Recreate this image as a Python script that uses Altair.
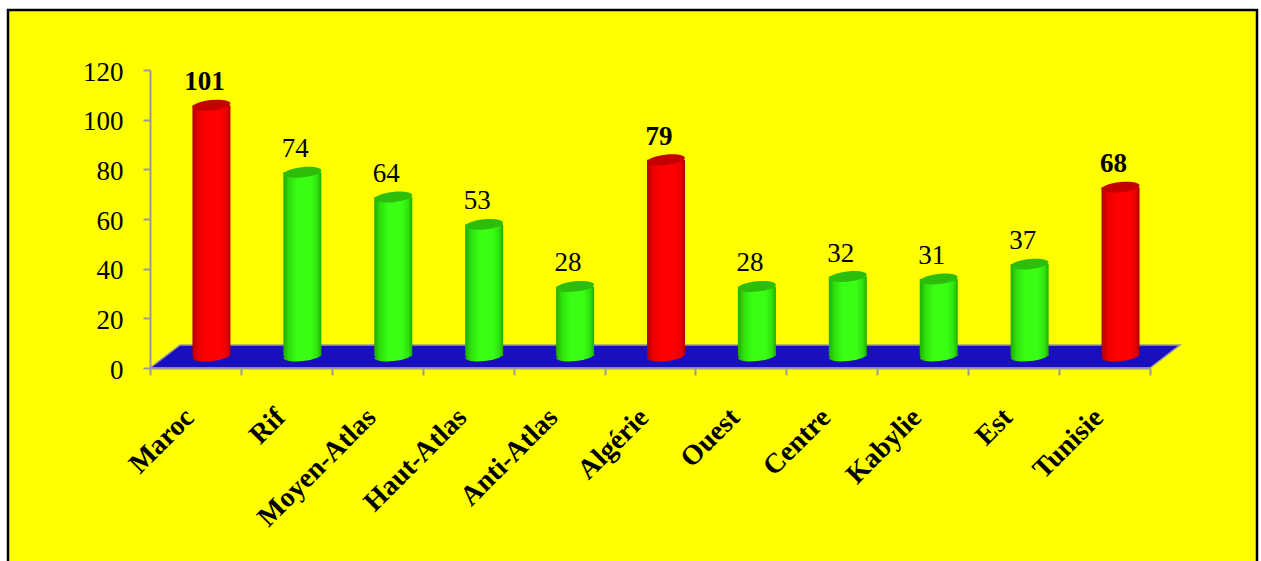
import altair as alt
import pandas as pd

# Nombre de taxons par pays et par région
zones = ["Maroc", "Rif", "Moyen-Atlas", "Haut-Atlas", "Anti-Atlas", "Algérie",
         "Ouest", "Centre", "Kabylie", "Est", "Tunisie"]
effectifs = [101, 74, 64, 53, 28, 79, 28, 32, 31, 37, 68]
niveaux = ["pays", "région", "région", "région", "région", "pays",
           "région", "région", "région", "région", "pays"]

df = pd.DataFrame({"zone": zones, "n": effectifs, "niveau": niveaux})

W, H = 1000, 298          # plot area
DX, DY = 16, 12           # depth shift of the cylinders on the floor
CYL_W = 38                # cylinder diameter in px
SERIF = "Liberation Serif"
GREY = "#9A9A9A"

ELLIPSE = "M -1 0 A 1 0.27 0 1 1 1 0 A 1 0.27 0 1 1 -1 0 Z"
FLOOR = "M -1.03 0.023 L 0.97 0.023 L 1.03 -0.023 L -0.97 -0.023 Z"


def body(dark, mid, light):
    return {
        "gradient": "linear", "x1": 0, "x2": 1, "y1": 0, "y2": 0,
        "stops": [
            {"offset": 0.0, "color": dark},
            {"offset": 0.15, "color": mid},
            {"offset": 0.38, "color": light},
            {"offset": 0.72, "color": light},
            {"offset": 0.9, "color": mid},
            {"offset": 1.0, "color": dark},
        ],
    }


STYLE = {
    "pays": {"body": body("#B00000", "#E80000", "#FF0000"), "top": "#C40000", "weight": "bold"},
    "région": {"body": body("#1FAA00", "#2EE00C", "#3AFF14"), "top": "#2DBD0B", "weight": "normal"},
}

x = alt.X(
    "zone:N", sort=zones,
    scale=alt.Scale(paddingInner=0, paddingOuter=0),
    axis=alt.Axis(
        title=None, labelAngle=-45, labelAlign="right", labelBaseline="middle",
        labelFont=SERIF, labelFontWeight="bold", labelFontSize=28, labelColor="black",
        labelPadding=38, labelOffset=-6, labelOverlap=False, tickBand="extent",
        tickSize=7, tickWidth=2, tickColor=GREY, domainColor=GREY, domainWidth=2,
        zindex=1,
    ),
)
y = alt.Y(
    "n:Q",
    scale=alt.Scale(domain=[0, 120], nice=False),
    axis=alt.Axis(
        title=None, values=[0, 20, 40, 60, 80, 100, 120], grid=False,
        labelFont=SERIF, labelFontSize=27, labelColor="black", labelPadding=20,
        labelOffset=2, tickSize=7, tickWidth=2, tickColor=GREY, domainColor=GREY,
        domainWidth=2, zindex=1,
    ),
)

base = alt.Chart(df)

frame = alt.Chart(alt.Data(values=[{}])).mark_rect(
    fill="#FFFF00", stroke="black", strokeWidth=2.5
).encode(x=alt.value(-142), x2=alt.value(W + 107), y=alt.value(-60), y2=alt.value(H + 220))

floor = alt.Chart(alt.Data(values=[{}])).mark_point(
    shape=FLOOR, size=W * W, filled=True, opacity=1, fill="#1A0FBE",
    stroke=GREY, strokeWidth=1.5, yOffset=-11.5,
).encode(x=alt.value(W / 2 + 15), y=alt.datum(0, scale=alt.Scale(domain=[0, 120])))

layers = [frame, floor]
for niveau, st in STYLE.items():
    sub = base.transform_filter(alt.datum.niveau == niveau)
    foot = sub.mark_point(
        shape=ELLIPSE, size=CYL_W * CYL_W, filled=True, opacity=1, strokeWidth=0,
        fill=st["body"], angle=354, xOffset=DX, yOffset=-DY,
    ).encode(x=x, y=alt.datum(0))
    shaft = sub.mark_bar(
        size=CYL_W, fill=st["body"], xOffset=DX, yOffset=-DY, y2Offset=-DY,
    ).encode(x=x, y=y, y2=alt.datum(0))
    cap = sub.mark_point(
        shape=ELLIPSE, size=CYL_W * CYL_W, filled=True, opacity=1, strokeWidth=0,
        fill=st["top"], angle=354, xOffset=DX, yOffset=-DY,
    ).encode(x=x, y=y)
    label = sub.mark_text(
        font=SERIF, fontSize=27, fontWeight=st["weight"], color="black",
        baseline="alphabetic", dx=9, dy=-DY - 15,
    ).encode(x=x, y=y, text="n:Q")
    layers += [foot, shaft, cap, label]

chart = alt.layer(*layers).properties(
    width=W, height=H,
    autosize=alt.AutoSizeParams(type="none"),
    padding={"left": 150, "top": 70, "right": 111, "bottom": 193},
).configure(background="white").configure_view(stroke=None)

chart.save("out.html", embed_options={"renderer": "svg", "actions": False})
